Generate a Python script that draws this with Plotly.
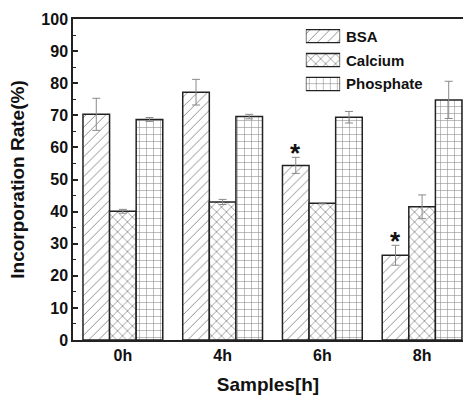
import plotly.graph_objects as go

categories = ["0h", "4h", "6h", "8h"]
bsa = [70.3, 77.2, 54.4, 26.4]
bsa_err = [5.0, 4.0, 2.5, 3.1]
calcium = [40.1, 43.0, 42.6, 41.5]
calcium_err = [0.6, 0.8, 0.2, 3.7]
phosphate = [68.7, 69.6, 69.4, 74.8]
phosphate_err = [0.6, 0.7, 1.8, 5.8]
sig_idx = [2, 3]  # BSA bars marked with *

FONT = "Liberation Sans, Arial, sans-serif"
INK = "#222222"
series = [
    ("BSA", bsa, bsa_err, "/", 0.14),
    ("Calcium", calcium, calcium_err, "x", 0.22),
    ("Phosphate", phosphate, phosphate_err, "+", 0.16),
]

def pattern(shape, sol):
    return dict(shape=shape, fgcolor="#1e1e1e", bgcolor="white",
                size=7, solidity=sol, fillmode="overlay")

fig = go.Figure()
for name, vals, errs, shape, sol in series:
    fig.add_trace(go.Bar(
        name=name, x=categories, y=vals, showlegend=False,
        marker=dict(color="white", line=dict(color=INK, width=1.5), pattern=pattern(shape, sol)),
        error_y=dict(type="data", array=errs, visible=True, color="#8a8a8a",
                     thickness=1, width=4),
    ))

# custom legend: patterned swatches on a small overlay axis + text labels
legend_y = [0.947, 0.872, 0.798]
for k, (name, vals, errs, shape, sol) in enumerate(series):
    pos = len(series) - 1 - k
    fig.add_trace(go.Bar(
        x=[1], y=[pos], base=[0], orientation="h", xaxis="x2", yaxis="y2",
        width=0.55, offset=-0.275, showlegend=False, hoverinfo="skip",
        marker=dict(color="white", line=dict(color=INK, width=1.3), pattern=pattern(shape, sol)),
    ))
    fig.add_annotation(x=0.695, y=legend_y[k], xref="paper", yref="paper", text=name,
                       showarrow=False, xanchor="left", yanchor="middle",
                       font=dict(family=FONT, size=15, color="#111111", weight="bold"))

bar_w = 0.8 / 3
for i in sig_idx:
    fig.add_annotation(x=i - bar_w, y=bsa[i] + bsa_err[i], xref="x", yref="y",
                       text="*", showarrow=False, yanchor="bottom",
                       font=dict(family=FONT, size=26, color="#111111", weight="bold"), yshift=-13)

fig.update_layout(
    width=463, height=395,
    margin=dict(l=73, r=0, t=19, b=55),
    paper_bgcolor="white", plot_bgcolor="white",
    barmode="group", bargap=0.2, bargroupgap=0,
    font=dict(family=FONT, color="#111111"),
    showlegend=False,
    xaxis=dict(
        type="category", range=[-0.5, 3.41],
        showline=True, linecolor=INK, linewidth=1.5, mirror=True,
        ticks="", showgrid=False, zeroline=False,
        tickfont=dict(family=FONT, size=16, color="#111111", weight="bold"),
        title=dict(text="Samples[h]", font=dict(family=FONT, size=19, color="#111111", weight="bold"), standoff=18),
    ),
    yaxis=dict(
        range=[0, 100], dtick=10, tick0=0,
        showline=True, linecolor=INK, linewidth=1.5, mirror=False,
        ticks="inside", ticklen=5, tickwidth=1.5, tickcolor=INK,
        minor=dict(ticks="inside", ticklen=3, dtick=5, tickcolor=INK, tickwidth=1),
        showgrid=False, zeroline=False,
        tickfont=dict(family=FONT, size=16, color="#111111", weight="bold"),
        title=dict(text="Incorporation Rate(%)", font=dict(family=FONT, size=19, color="#111111", weight="bold"), standoff=12),
    ),
    xaxis2=dict(domain=[0.597, 0.685], range=[0, 1], anchor="y2", visible=False, fixedrange=True),
    yaxis2=dict(domain=[0.760, 0.984], range=[-0.5, 2.5], anchor="x2", visible=False, fixedrange=True),
)

fig.write_html("out.html")
